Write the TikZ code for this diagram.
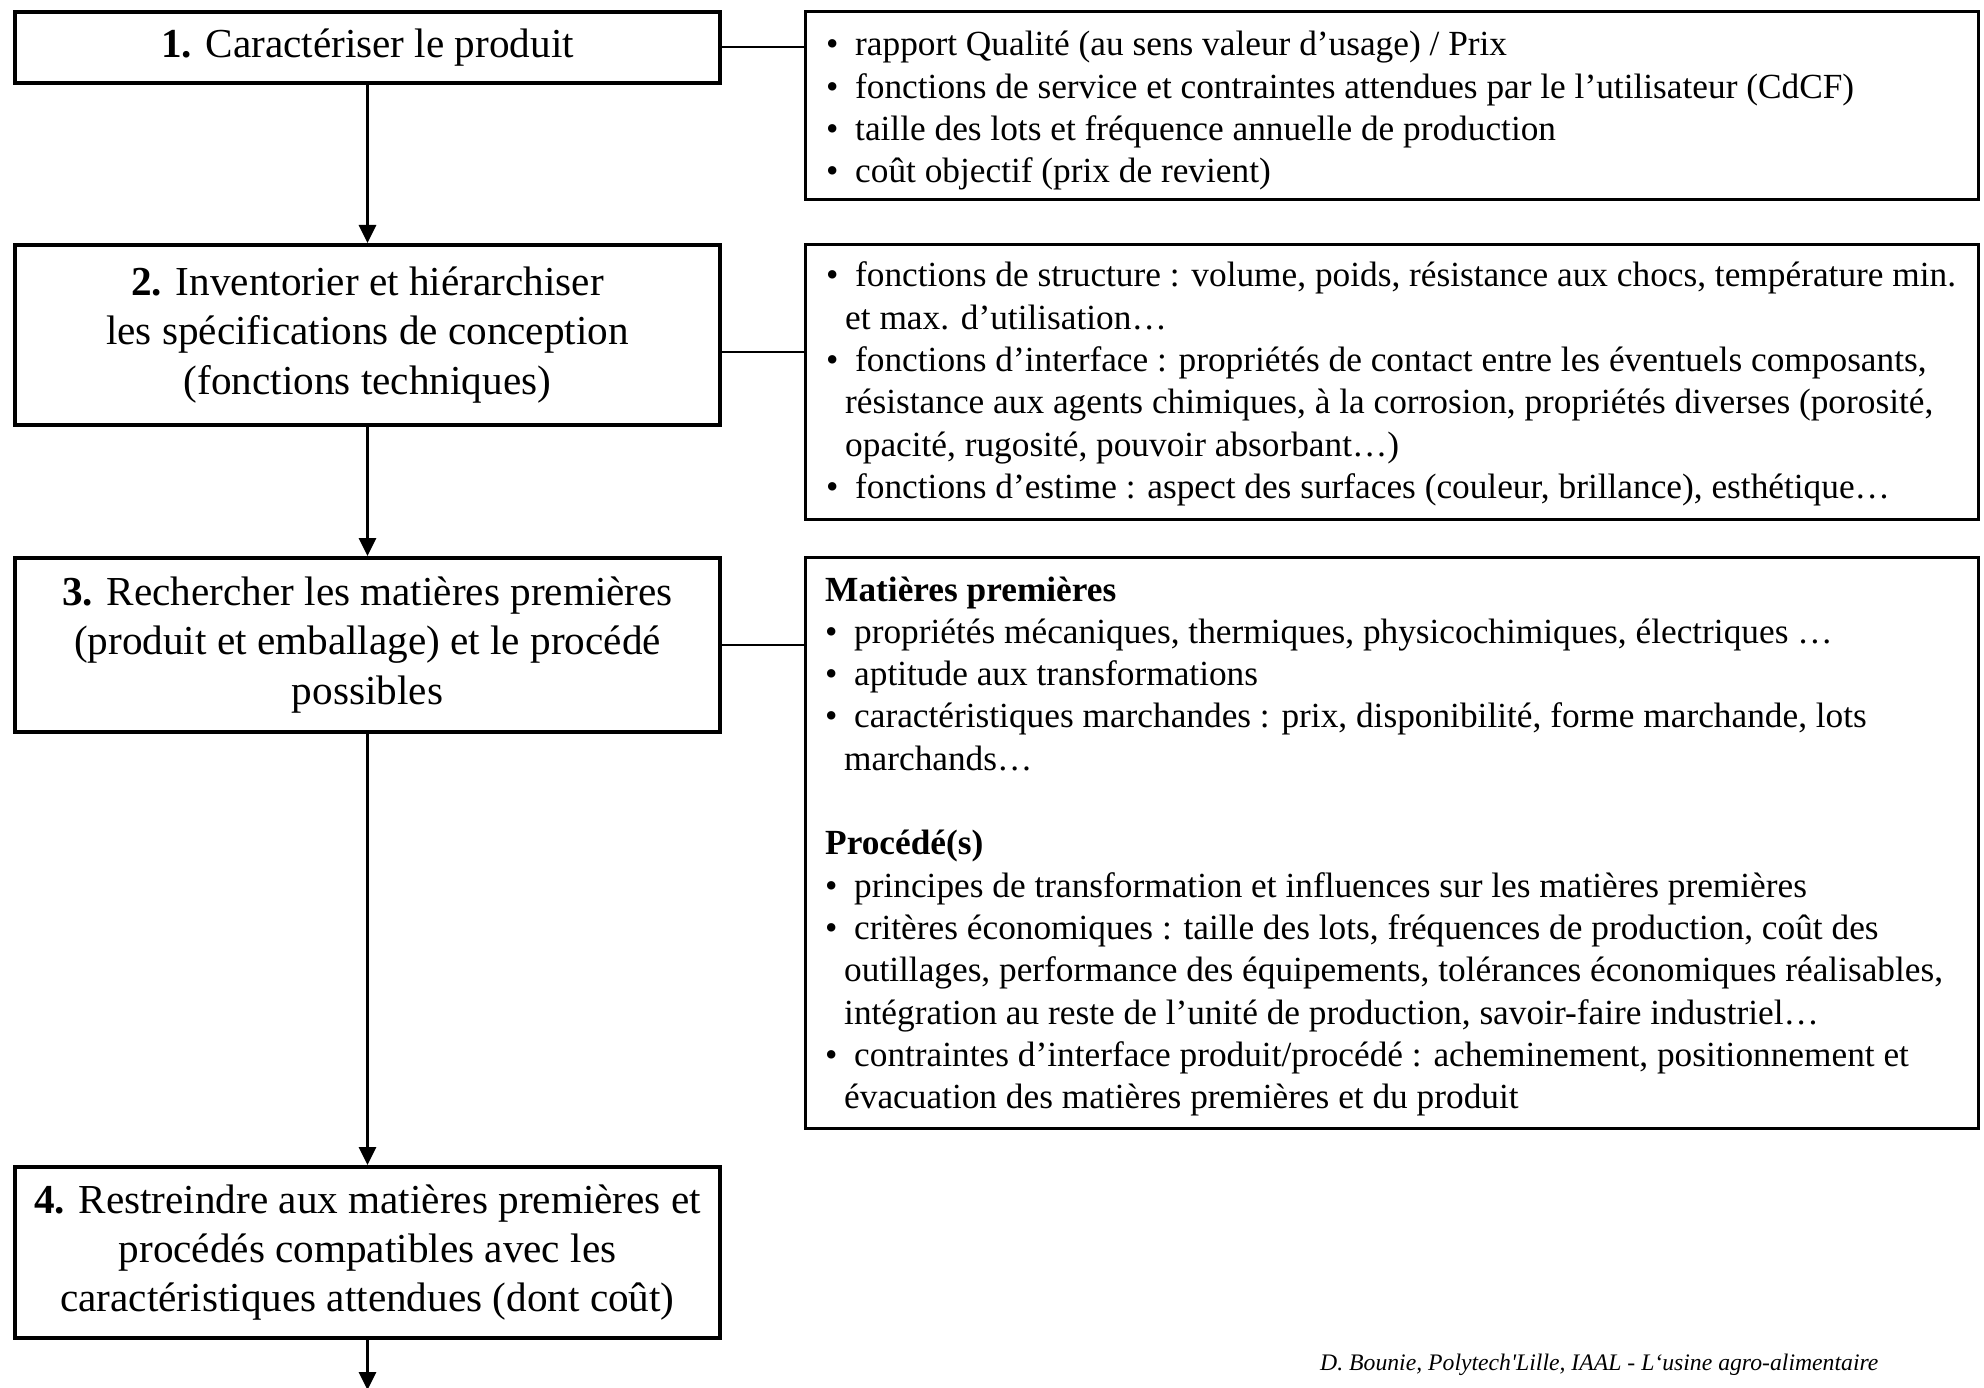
\documentclass[tikz,border=0pt]{standalone}
\usepackage{fontspec}
\setmainfont{Liberation Serif}
% same face without TeX ligature mapping, so ' stays a straight quote
\newfontfamily\creditfont{Liberation Serif}
\usetikzlibrary{arrows.meta}

% bullet with a fixed gap before the item text, and indent of wrapped lines
\newcommand\bul{\makebox[29pt][l]{\textbullet}}
\newcommand\cont{\hspace*{19pt}}

\begin{document}
\begin{tikzpicture}[x=1pt,y=-1pt,
  stepbox/.style={draw, line width=4pt, minimum width=705pt, inner sep=0pt,
    align=center, font=\fontsize{41.2}{49.4}\selectfont},
  notebox/.style={draw, line width=3pt, minimum width=1173pt, inner sep=0pt},
  notes/.style={anchor=base west, inner sep=0pt, font=\fontsize{35.3}{42.3}\selectfont},
  flow/.style={line width=3.2pt, -{Triangle[length=18pt,width=17pt]}},
  link/.style={line width=2pt}]

\useasboundingbox (0,0) rectangle (1984,1388);

% process steps
\node[stepbox, minimum height=71pt]  (b1) at (367.5,47.5)
  {\textbf{1.} Caractériser le produit};
\node[stepbox, minimum height=180pt] (b2) at (367.5,335)
  {\textbf{2.} Inventorier et hiérarchiser\\les spécifications de conception\\(fonctions techniques)};
\node[stepbox, minimum height=174pt] (b3) at (367.5,645)
  {\textbf{3.} Rechercher les matières premières\\(produit et emballage) et le procédé\\possibles};
\node[stepbox, minimum height=171pt] (b4) at (367.5,1252.5)
  {\textbf{4.} Restreindre aux matières premières et\\procédés compatibles avec les\\caractéristiques attendues (dont coût)};
\coordinate (out) at (367.5,1390);

% detail boxes
\node[notebox, minimum height=188pt] (r1) at (1392,105.5) {};
\node[notebox, minimum height=275pt] (r2) at (1392,382) {};
\node[notebox, minimum height=571pt] (r3) at (1392,843) {};

\node[notes] (t1) at (826,56) {\begin{tabular}[t]{@{}l@{}}
\bul rapport Qualité (au sens valeur d’usage) / Prix\\
\bul fonctions de service et contraintes attendues par le l’utilisateur (CdCF)\\
\bul taille des lots et fréquence annuelle de production\\
\bul coût objectif (prix de revient)
\end{tabular}};

\node[notes] (t2) at (826,287) {\begin{tabular}[t]{@{}l@{}}
\bul fonctions de structure : volume, poids, résistance aux chocs, température min.\\
\cont et max. d’utilisation…\\
\bul fonctions d’interface : propriétés de contact entre les éventuels composants,\\
\cont résistance aux agents chimiques, à la corrosion, propriétés diverses (porosité,\\
\cont opacité, rugosité, pouvoir absorbant…)\\
\bul fonctions d’estime : aspect des surfaces (couleur, brillance), esthétique…
\end{tabular}};

\node[notes] (t3) at (825,601) {\begin{tabular}[t]{@{}l@{}}
\textbf{Matières premières}\\
\bul propriétés mécaniques, thermiques, physicochimiques, électriques …\\
\bul aptitude aux transformations\\
\bul caractéristiques marchandes : prix, disponibilité, forme marchande, lots\\
\cont marchands…\\
\\
\textbf{Procédé(s)}\\
\bul principes de transformation et influences sur les matières premières\\
\bul critères économiques : taille des lots, fréquences de production, coût des\\
\cont outillages, performance des équipements, tolérances économiques réalisables,\\
\cont intégration au reste de l’unité de production, savoir-faire industriel…\\
\bul contraintes d’interface produit/procédé : acheminement, positionnement et\\
\cont évacuation des matières premières et du produit
\end{tabular}};

% flow arrows
\draw[flow] (b1) -- (b2);
\draw[flow] (b2) -- (b3);
\draw[flow] (b3) -- (b4);
\draw[flow] (b4) -- (out);

% links to the detail boxes
\draw[link] (b1.east) -- (b1.east -| r1.west);
\draw[link] ([yshift=-17pt]b2.east) -- ([yshift=-17pt]b2.east -| r2.west);
\draw[link] (b3.east) -- (b3.east -| r3.west);

% credit line
\node[anchor=base west, inner sep=0pt, font=\creditfont\fontsize{23.7}{28}\selectfont\itshape]
  (credit) at (1320,1370) {D. Bounie, Polytech'Lille, IAAL - L‘usine agro-alimentaire};
\end{tikzpicture}
\end{document}
